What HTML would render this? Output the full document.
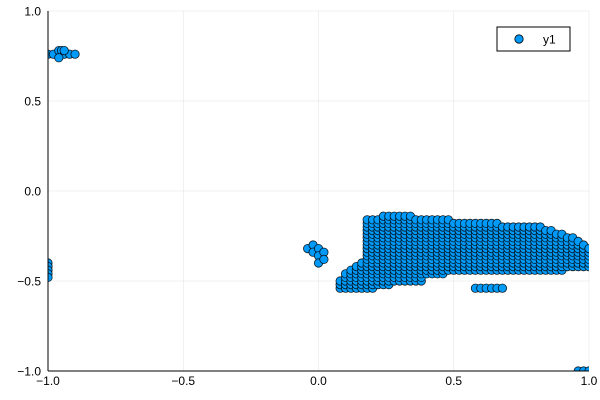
<!DOCTYPE html>
<html><head><meta charset="utf-8"><style>
html,body{margin:0;padding:0;background:#fff;}
svg{display:block;font-family:"Liberation Sans",sans-serif;}
</style></head><body>
<svg id="chart" width="600" height="400">
<defs><clipPath id="clip"><rect x="48" y="11" width="541" height="360"/></clipPath></defs>
<g id="grid"></g>
<g id="pts" clip-path="url(#clip)"></g>
<line x1="48" y1="371" x2="589" y2="371" stroke="#000" stroke-width="1"/>
<line x1="48" y1="11" x2="48" y2="371" stroke="#000" stroke-width="1"/>
<g id="ticks" font-size="12" fill="#000"></g>
<g>
<rect x="497" y="27" width="73" height="24" fill="#fff" stroke="#000" stroke-width="1"/>
<circle cx="519" cy="39" r="4.2" fill="#009af9" stroke="#000" stroke-width="0.8"/>
<text x="543" y="43.5" font-size="12">y1</text>
</g>
</svg>
<script>
// Blob columns (grid step 0.02): x, bottom y, top y
const colX   = [0.08,0.10,0.12,0.14,0.16,0.18,0.20,0.22,0.24,0.26,0.28,0.30,0.32,0.34,0.36,0.38,0.40,0.42,0.44,0.46,0.48,0.50,0.52,0.54,0.56,0.58,0.60,0.62,0.64,0.66,0.68,0.70,0.72,0.74,0.76,0.78,0.80,0.82,0.84,0.86,0.88,0.90,0.92,0.94,0.96,0.98,1.00];
const colBot = [-0.54,-0.54,-0.54,-0.54,-0.54,-0.54,-0.54,-0.52,-0.52,-0.52,-0.50,-0.50,-0.50,-0.50,-0.50,-0.50,-0.46,-0.46,-0.46,-0.46,-0.44,-0.44,-0.44,-0.44,-0.44,-0.44,-0.44,-0.44,-0.44,-0.44,-0.44,-0.44,-0.44,-0.44,-0.44,-0.44,-0.44,-0.44,-0.44,-0.44,-0.44,-0.44,-0.42,-0.42,-0.42,-0.42,-0.42];
const colTop = [-0.50,-0.46,-0.44,-0.42,-0.40,-0.16,-0.16,-0.16,-0.14,-0.14,-0.14,-0.14,-0.14,-0.14,-0.16,-0.16,-0.16,-0.16,-0.16,-0.16,-0.16,-0.18,-0.18,-0.18,-0.18,-0.18,-0.18,-0.18,-0.18,-0.18,-0.20,-0.20,-0.20,-0.20,-0.20,-0.20,-0.20,-0.20,-0.22,-0.22,-0.24,-0.24,-0.26,-0.26,-0.28,-0.30,-0.32];
// Isolated points
const extraX = [-1.00,-0.98,-0.96,-0.95,-0.94,-0.92,-0.90,-0.96,-0.94, -1.00,-1.00,-1.00,-1.00,-1.00, -0.04,-0.02,-0.02,0.00,0.00,0.02,0.00,0.02, 0.58,0.60,0.62,0.64,0.66,0.68, 0.96,0.98,1.00];
const extraY = [0.76,0.76,0.78,0.78,0.76,0.76,0.76,0.74,0.78, -0.40,-0.42,-0.44,-0.46,-0.48, -0.32,-0.30,-0.34,-0.32,-0.36,-0.34,-0.40,-0.38, -0.54,-0.54,-0.54,-0.54,-0.54,-0.54, -1.00,-1.00,-1.00];
const xTicks = [-1.0,-0.5,0.0,0.5,1.0];
const yTicks = [-1.0,-0.5,0.0,0.5,1.0];
const xTickLabels = ["\u22121.0","\u22120.5","0.0","0.5","1.0"];
const yTickLabels = ["\u22121.0","\u22120.5","0.0","0.5","1.0"];

const NS="http://www.w3.org/2000/svg";
const sx = v => 48 + (v + 1) * 270.5;
const sy = v => 11 + (1 - v) * 180;
const grid=document.getElementById('grid'), ticks=document.getElementById('ticks'), pts=document.getElementById('pts');
function mk(tag, attrs, parent){const e=document.createElementNS(NS,tag);for(const k in attrs)e.setAttribute(k,attrs[k]);parent.appendChild(e);return e;}
xTicks.forEach((v,i)=>{
  const g=mk('line',{x1:sx(v),x2:sx(v),y1:11,y2:371,stroke:'#000','stroke-opacity':0.1,'stroke-width':0.6},grid);
  
  
  const t=mk('text',{x:sx(v),y:385,'text-anchor':'middle'},ticks);
  t.textContent=xTickLabels[i];
  
  
});
yTicks.forEach((v,i)=>{
  const g=mk('line',{x1:48,x2:589,y1:sy(v),y2:sy(v),stroke:'#000','stroke-opacity':0.1,'stroke-width':0.6},grid);
  
  
  const t=mk('text',{x:41,y:sy(v)+4.5,'text-anchor':'end'},ticks);
  t.textContent=yTickLabels[i];
  
  
});
function dot(x,y){
  const c=mk('circle',{cx:sx(x).toFixed(2),cy:sy(y).toFixed(2),r:4.2,fill:'#009af9',stroke:'#000','stroke-width':0.8,'stroke-opacity':0.85},pts);
  
  
}
colX.forEach((x,i)=>{
  const n=Math.round((colTop[i]-colBot[i])/0.02);
  for(let k=0;k<=n;k++) dot(x, colBot[i]+k*0.02);
});
extraX.forEach((x,i)=>dot(x,extraY[i]));
</script>
</body></html>
